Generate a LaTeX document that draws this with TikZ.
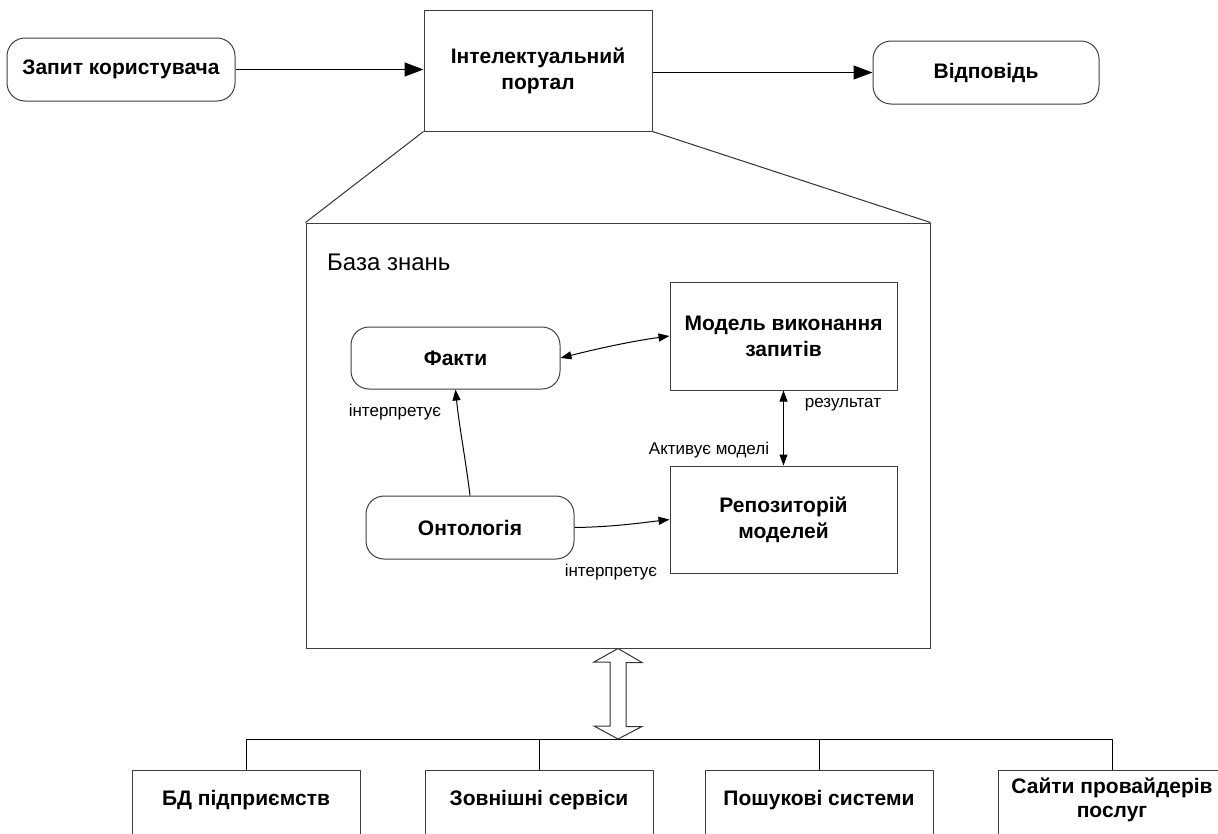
\documentclass[tikz,border=0pt]{standalone}
\usepackage{fontspec}
\setmainfont{Liberation Sans}
\usetikzlibrary{arrows.meta}
\newcommand\myB{\fontsize{21}{26}\selectfont\bfseries}
\newcommand\myBb{\fontsize{21}{24}\selectfont\bfseries}
\newcommand\myS{\fontsize{17}{20}\selectfont}
\newcommand\myL{\fontsize{24}{28}\selectfont}
\tikzset{
  box/.style={draw=black!75, line width=1pt, rectangle, inner sep=0pt, font=\myB, align=center},
  rbox/.style={box, rounded corners=18pt},
  lbl/.style={font=\myS, inner sep=0pt},
  conn/.style={draw=black, line width=1pt},
  bigtip/.style={conn, -{Triangle[length=19pt,width=14pt]}},
  tip/.style={conn, -{Triangle[length=11pt,width=8pt]}},
  dtip/.style={conn, {Triangle[length=11pt,width=8pt]}-{Triangle[length=11pt,width=8pt]}},
  hollow/.style={draw=black!80, line width=1pt, fill=white, line join=miter},
  btxt/.style={font=\myBb, align=center, inner sep=0pt},
}
\begin{document}
\begin{tikzpicture}[x=1pt, y=-1pt]
\useasboundingbox (0,0) rectangle (1218,833);
\clip (0,0) rectangle (1218,833);
\fill[white] (0,0) rectangle (1218,833);

% top row
\node[rbox, minimum width=228pt, minimum height=63pt] (zap) at (121,69.5) {Запит користувача};
\node[box, minimum width=228pt, minimum height=121pt] (portal) at (538,70.5) {Інтелектуальний\\портал};
\node[rbox, minimum width=226pt, minimum height=63pt] (vid) at (986,72.5) {Відповідь};
\draw[bigtip] (zap.east) -- (zap.east -| portal.west);
\draw[bigtip] (vid.west -| portal.east) -- (vid.west);

% knowledge base
\node[box, minimum width=624pt, minimum height=425pt] (kb) at (618,435.5) {};
\draw[conn, draw=black!80] (portal.south west) -- (kb.north west);
\draw[conn, draw=black!80] (portal.south east) -- (kb.north east);
\node[font=\myL, anchor=base west, inner sep=0pt] (kbl) at (327,270) {База знань};

\node[rbox, minimum width=209pt, minimum height=62pt] (fakty) at (455.5,358) {Факти};
\node[box, minimum width=227pt, minimum height=108pt] (model) at (783.5,336) {Модель виконання\\запитів};
\node[box, minimum width=227pt, minimum height=107pt] (rep) at (783.5,519.5) {Репозиторій\\моделей};
\node[rbox, minimum width=208pt, minimum height=63pt] (ont) at (470,527.5) {Онтологія};

\draw[dtip] (fakty.east) .. controls (600,348) and (633,341) .. (model.west);
\draw[tip] (ont.north) .. controls (466,462) and (459,425) .. (fakty.south);
\draw[tip] (ont.east) .. controls (612,527) and (640,523) .. (rep.west);
\draw[dtip] (model.south) -- (rep.north);

\node[lbl] (l1) at (395,412) {інтерпретує};
\node[lbl] (l2) at (611,572) {інтерпретує};
\node[lbl] (l3) at (843,405) {результат};
\node[lbl] (l4) at (709,450) {Активує моделі};

% bottom sources
\coordinate (bus) at (618,739);
\node[box, minimum width=228pt, minimum height=100pt, anchor=north] (b1) at (246,770) {};
\node[box, minimum width=228pt, minimum height=100pt, anchor=north] (b2) at (539,770) {};
\node[box, minimum width=228pt, minimum height=100pt, anchor=north] (b3) at (819,770) {};
\node[box, minimum width=228pt, minimum height=100pt, anchor=north] (b4) at (1112,770) {};
\node[btxt] (t1) at (246,800) {БД підприємств};
\node[btxt] (t2) at (539,800) {Зовнішні сервіси};
\node[btxt] (t3) at (819,800) {Пошукові системи};
\node[btxt] (t4) at (1112,800) {Сайти провайдерів\\послуг};

\draw[conn] (b1.north) |- (bus) -| (b4.north);
\draw[conn] (b2.north) -- (b2.north |- bus);
\draw[conn] (b3.north) -- (b3.north |- bus);

% hollow double arrow between knowledge base and bus
\draw[hollow] (kb.south) -- ++(24,14) -- ++(-16,0) -- ++(0,64) -- ++(16,0) -- (bus)
  -- ++(-24,-13) -- ++(16,0) -- ++(0,-64) -- ++(-16,0) -- cycle;
\end{tikzpicture}
\end{document}
